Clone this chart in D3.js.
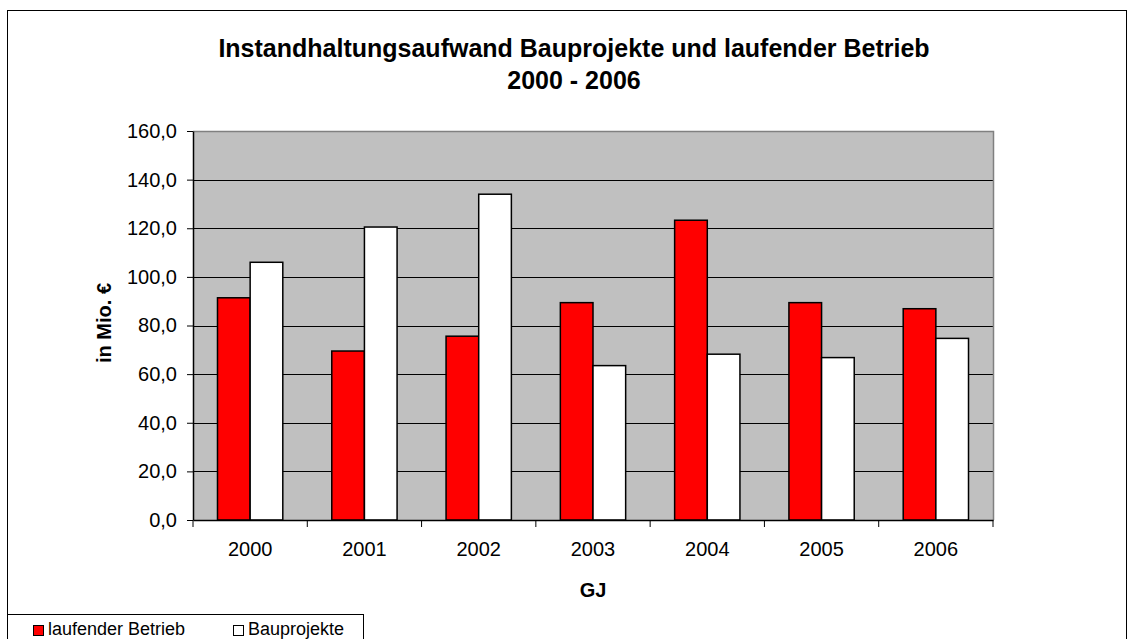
<!DOCTYPE html>
<html>
<head>
<meta charset="utf-8">
<script src="https://cdn.jsdelivr.net/npm/d3@7"></script>
<style>
  body { margin: 0; background: #fff; }
  svg { display: block; font-family: "Liberation Sans", Arial, sans-serif; }
</style>
</head>
<body>
<div class="chart-container"></div>
<script>
//Data
const years = ['2000', '2001', '2002', '2003', '2004', '2005', '2006'];
const laufenderBetrieb = [91.4, 69.5, 75.6, 89.4, 123.3, 89.4, 86.9];
const bauprojekte = [106.0, 120.5, 134.0, 63.5, 68.2, 66.8, 74.7];
const yTicks = [0, 20, 40, 60, 80, 100, 120, 140, 160];
const seriesNames = ['laufender Betrieb', 'Bauprojekte'];
const seriesColors = ['#ff0000', '#ffffff'];

const svg_width = 1128;
const svg_height = 639;
const plot = {left: 193, right: 993, top: 131, bottom: 520};

const svg = d3.select('.chart-container').append('svg')
  .attr('width', svg_width).attr('height', svg_height);

//outer chart frame
svg.append('rect')
  .attr('x', 7.5).attr('y', 10.5)
  .attr('width', 1119).attr('height', 640)
  .style('fill', 'none').style('stroke', '#000').style('stroke-width', 1);

//Scales
const xScale = d3.scaleBand().domain(years).range([plot.left, plot.right]);
const xInner = d3.scaleBand().domain(seriesNames)
  .range([0, xScale.bandwidth()]).paddingInner(0).paddingOuter(0.75);
const yScale = d3.scaleLinear([0, 160], [plot.bottom, plot.top]);

//plot background
svg.append('rect')
  .attr('x', plot.left).attr('y', plot.top)
  .attr('width', plot.right - plot.left).attr('height', plot.bottom - plot.top)
  .style('fill', '#c0c0c0');

//gridlines
svg.append('g').attr('class', 'grid')
  .selectAll('line').data(yTicks.filter(d => d > 0 && d < 160)).join('line')
  .attr('x1', plot.left).attr('x2', plot.right)
  .attr('y1', d => Math.round(yScale(d)) + 0.5).attr('y2', d => Math.round(yScale(d)) + 0.5)
  .style('stroke', '#000').style('stroke-width', 1);

//top + right border of plot area
svg.append('path')
  .attr('d', `M${plot.left},${plot.top + 0.5}H${plot.right + 0.5}V${plot.bottom}`)
  .style('fill', 'none').style('stroke', '#808080').style('stroke-width', 1.5);

//Bars
const rows = years.map((y, i) => ({year: y, values: [laufenderBetrieb[i], bauprojekte[i]]}));
const groups = svg.append('g').attr('class', 'bars')
  .selectAll('g').data(rows).join('g')
  .attr('transform', d => `translate(${xScale(d.year)},0)`);

groups.selectAll('rect')
  .data(d => d.values.map((v, k) => ({name: seriesNames[k], value: v, k: k})))
  .join('rect')
  .attr('x', d => xInner(d.name))
  .attr('y', d => yScale(d.value))
  .attr('width', xInner.bandwidth())
  .attr('height', d => plot.bottom - yScale(d.value))
  .style('fill', d => seriesColors[d.k])
  .style('stroke', '#000').style('stroke-width', 1.5);

//Axes
const fmt = d => d3.format('.1f')(d).replace('.', ',');
const yAxis = d3.axisLeft(yScale).tickValues(yTicks).tickFormat(fmt)
  .tickSizeInner(6).tickSizeOuter(0).tickPadding(10);
const yAxisDraw = svg.append('g').attr('class', 'y axis')
  .attr('transform', `translate(${plot.left},0)`).call(yAxis);

const xAxis = d3.axisBottom(xScale).tickSize(0).tickPadding(22);
const xAxisDraw = svg.append('g').attr('class', 'x axis')
  .attr('transform', `translate(0,${plot.bottom})`).call(xAxis);

//category boundary ticks
xAxisDraw.selectAll('.sep')
  .data(years.map(y => xScale(y)).concat([plot.right])).join('line')
  .attr('class', 'sep')
  .attr('x1', d => d).attr('x2', d => d)
  .attr('y1', 0).attr('y2', 7)
  .style('stroke', '#000');

svg.selectAll('.axis path.domain').style('stroke', '#000').style('stroke-width', 1.5);
svg.selectAll('.axis line').style('stroke', '#000');
svg.selectAll('.axis text')
  .style('font-family', '"Liberation Sans", Arial, sans-serif')
  .style('font-size', '20px').style('fill', '#000');

//Title
const title = svg.append('text')
  .attr('text-anchor', 'middle')
  .style('font-size', '25px').style('font-weight', 'bold');
title.append('tspan').attr('x', 574).attr('y', 57)
  .text('Instandhaltungsaufwand Bauprojekte und laufender Betrieb');
title.append('tspan').attr('x', 574).attr('y', 89).text('2000 - 2006');

//Axis titles
svg.append('text')
  .attr('transform', 'translate(111,323) rotate(-90)')
  .attr('text-anchor', 'middle')
  .style('font-size', '20px').style('font-weight', 'bold')
  .text('in Mio. €');

svg.append('text')
  .attr('x', (plot.left + plot.right) / 2).attr('y', 597)
  .attr('text-anchor', 'middle')
  .style('font-size', '20px').style('font-weight', 'bold')
  .text('GJ');

//Legend
const legend = svg.append('g').attr('class', 'legend');
legend.append('rect')
  .attr('x', 7.5).attr('y', 614.5).attr('width', 356).attr('height', 40)
  .style('fill', '#fff').style('stroke', '#000');

const legendX = [33, 233];
const items = legend.selectAll('.item').data(seriesNames).join('g')
  .attr('class', 'item')
  .attr('transform', (d, i) => `translate(${legendX[i]},0)`);
items.append('rect')
  .attr('x', 0.5).attr('y', 625.5).attr('width', 10).attr('height', 10)
  .style('fill', (d, i) => seriesColors[i]).style('stroke', '#000');
items.append('text')
  .attr('x', 15).attr('y', 635)
  .style('font-size', '18px')
  .text(d => d);
</script>
</body>
</html>
